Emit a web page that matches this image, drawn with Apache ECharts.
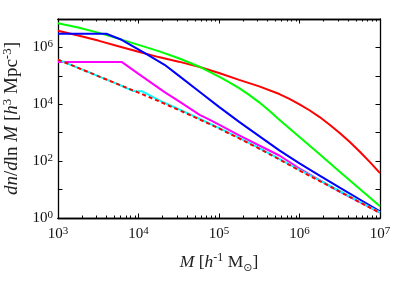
<!DOCTYPE html>
<html><head><meta charset="utf-8">
<script src="https://cdn.jsdelivr.net/npm/echarts@6/dist/echarts.min.js"></script>
<style>html,body{margin:0;padding:0;background:#fff}#c{width:409px;height:286px}</style>
</head><body><div id="c"></div>
<script>
// Halo mass (h^-1 Msun) grid shared by several curves
const massGrid = [1e3,1.78e3,3.16e3,5.62e3,1e4,1.78e4,3.16e4,5.62e4,1e5,1.78e5,3.16e5,5.62e5,1e6,1.78e6,3.16e6,5.62e6,1e7];
const redMass = [1e3,1.78e3,3.16e3,5.62e3,1e4,1.78e4,3.16e4,5.62e4,1e5,1.78e5,3.16e5,5.62e5,7.50e5,1e6,1.33e6,1.78e6,2.37e6,3.16e6,4.22e6,5.62e6,7.50e6,1e7];
const redValues = [3.89e6,2.63e6,1.74e6,1.10e6,7.08e5,4.57e5,3.16e5,2.09e5,1.26e5,7.24e4,4.27e4,2.29e4,1.55e4,1.00e4,6.17e3,3.55e3,1.91e3,977,468,214,92.3,38.0];
const greenMass = [1e3,1.78e3,3.16e3,5.62e3,1e4,1.78e4,3.16e4,5.62e4,1e5,1.33e5,1.78e5,2.37e5,3.16e5,4.22e5,5.62e5,1e6,1.78e6,3.16e6,5.62e6,1e7];
const greenValues = [7.08e6,5.01e6,3.31e6,2.04e6,1.23e6,7.41e5,4.17e5,2.14e5,9.33e4,6.03e4,3.72e4,2.14e4,1.17e4,5.89e3,2.88e3,708,174,42.7,10.5,2.57];
const blueMass = [1e3,3.98e3,6.17e3,1.20e4,2.11e4,3.16e4,5.62e4,1e5,1.78e5,3.16e5,5.62e5,1e6,1.78e6,3.16e6,5.62e6,1e7];
const blueValues = [3.02e6,3.02e6,1.86e6,6.31e5,2.45e5,1.02e5,2.88e4,8.13e3,2.40e3,759,240,83.2,30.9,11.7,4.47,1.70];
const magentaMass = [1e3,6.17e3,1e4,2.11e4,3.16e4,5.75e4,7.59e4,1e5,1.78e5,3.16e5,5.62e5,1e6,1.78e6,3.16e6,5.62e6,1e7];
const magentaValues = [3.09e5,3.09e5,1.17e5,2.69e4,1.29e4,4.27e3,2.88e3,1.91e3,813,355,158,55.0,21.4,8.51,3.63,1.55];
const cyanMass = [1e3,1.78e3,3.16e3,5.62e3,8.51e3,1.10e4,2.0e4,3.16e4,5.62e4,1e5,1.78e5,3.16e5,5.62e5,1e6,1.78e6,3.16e6,5.62e6,1e7];
const cyanValues = [3.72e5,1.91e5,9.77e4,5.01e4,2.95e4,2.88e4,1.20e4,6.76e3,3.16e3,1.48e3,661,288,120,49.0,20.9,8.91,3.72,1.58];
const dashedValues = [3.72e5,1.91e5,9.77e4,5.01e4,2.57e4,1.29e4,6.31e3,3.02e3,1.41e3,631,275,115,46.8,20.0,8.51,3.55,1.51];

const xMajorTicks = [1e3,1e4,1e5,1e6,1e7];
const yMajorTicks = [1,10,100,1e3,1e4,1e5,1e6,1e7];
const yTickLabels = [1,100,1e4,1e6];
const xMinorTicks = [];
for (let d = 3; d < 7; d++) for (let k = 2; k <= 9; k++) xMinorTicks.push(k * Math.pow(10, d));

const F = 'Liberation Serif';
const pairs = (xs, ys) => xs.map((x, i) => [x, ys[i]]);
const powLabel = v => '{b|10}{s|' + Math.round(Math.log10(v)) + '}';
const labRich = {
  b: {fontFamily: F, fontSize: 15, color: '#111', lineHeight: 17},
  s: {fontFamily: F, fontSize: 11, color: '#111', lineHeight: 11, verticalAlign: 'top'}
};
const NC = '#222';
function nameRich(fs) {
  return {
    i: {fontFamily: F, fontSize: fs, fontStyle: 'italic', color: NC, lineHeight: fs + 4},
    r: {fontFamily: F, fontSize: fs, color: NC, lineHeight: fs + 4},
    sup: {fontFamily: F, fontSize: Math.round(fs * 0.7), color: NC, lineHeight: 12, verticalAlign: 'top'},
    sub: {fontFamily: 'DejaVu Sans', fontSize: Math.round(fs * 0.6), color: NC, lineHeight: 12, verticalAlign: 'bottom'}
  };
}
const axLine = {show: true, lineStyle: {color: '#000', width: 1.3}};
function xAx(pos, minor, withLabels) {
  return {
    type: 'log', logBase: 10, min: 1e3, max: 1e7, position: pos,
    axisLine: axLine, splitLine: {show: false},
    axisTick: {show: true, inside: true, length: minor ? 2.5 : 4.5, customValues: minor ? xMinorTicks : xMajorTicks, lineStyle: {color: '#000', width: 1}},
    axisLabel: withLabels ? {show: true, customValues: xMajorTicks, formatter: powLabel, rich: labRich, margin: 8} : {show: false},
    name: withLabels ? '{i|M} {r|[}{i|h}{sup|-1}{r| M}{sub|⊙}{r|]}' : '',
    nameLocation: 'middle', nameGap: 34,
    nameTextStyle: {rich: nameRich(17.5), fontFamily: F, fontSize: 17.5, color: NC}
  };
}
function yAx(pos, withLabels) {
  return {
    type: 'log', logBase: 10, min: 1, max: 1e7, position: pos,
    axisLine: axLine, splitLine: {show: false},
    axisTick: {show: true, inside: true, length: 4.5, customValues: yMajorTicks, lineStyle: {color: '#000', width: 1}},
    axisLabel: withLabels ? {show: true, customValues: yTickLabels, formatter: powLabel, rich: labRich, margin: 5} : {show: false},
    name: withLabels ? '{i|dn}{r|/}{i|d}{r|ln }{i|M} {r|[}{i|h}{sup|3}{r| Mpc}{sup|-3}{r|]}' : '',
    nameLocation: 'middle', nameRotate: 90, nameGap: 24,
    nameTextStyle: {rich: nameRich(19), fontFamily: F, fontSize: 19, color: NC}
  };
}
function line(data, color, dashed) {
  return {type: 'line', data: data, xAxisIndex: 0, yAxisIndex: 0, symbol: 'none', showSymbol: false, smooth: false,
    lineStyle: {color: color, width: 2, type: dashed ? [4, 3] : 'solid'}, itemStyle: {color: color}, animation: false, silent: true};
}
const chart = echarts.init(document.getElementById('c'), null, {renderer: 'canvas'});
chart.setOption({
  backgroundColor: '#fff',
  animation: false,
  grid: {left: 58, right: 29, top: 19, bottom: 68, containLabel: false, outerBoundsMode: 'none'},
  xAxis: [xAx('bottom', false, true), xAx('bottom', true, false), xAx('top', false, false), xAx('top', true, false)],
  yAxis: [yAx('left', true), yAx('right', false)],
  series: [
    line(pairs(redMass, redValues), '#ff0000'),
    line(pairs(greenMass, greenValues), '#00ff00'),
    line(pairs(blueMass, blueValues), '#0000ff'),
    line(pairs(magentaMass, magentaValues), '#ff00ff'),
    line(pairs(cyanMass, cyanValues), '#00ffff'),
    line(pairs(massGrid, dashedValues), '#ff0000', true)
  ]
});
</script></body></html>
